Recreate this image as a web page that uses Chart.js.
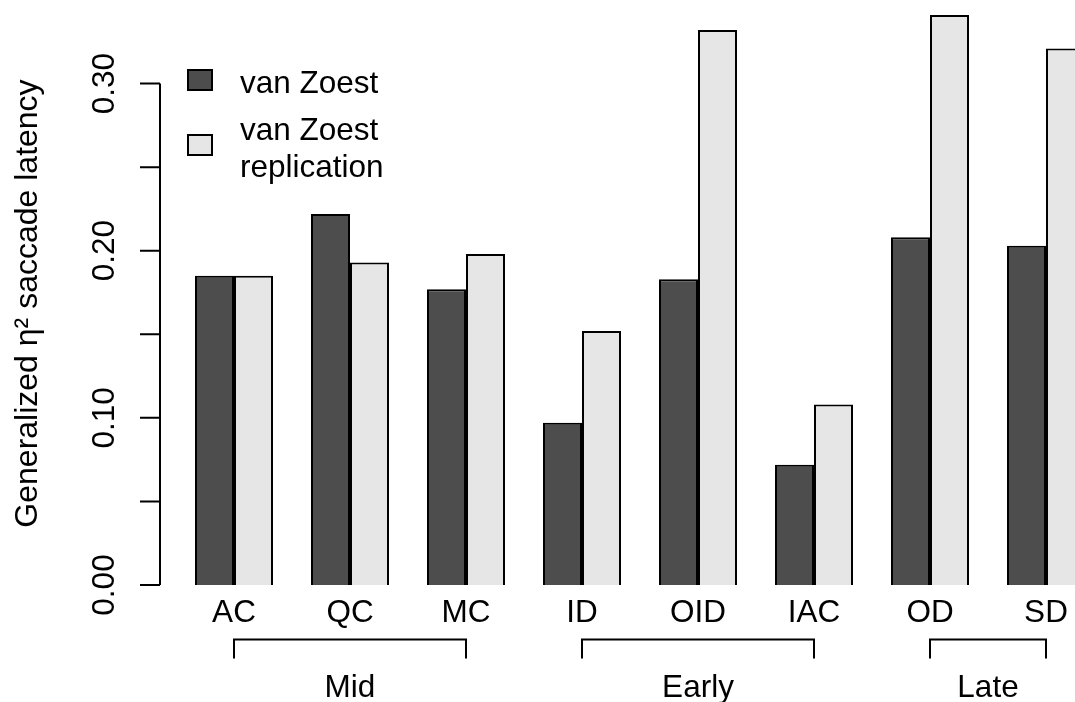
<!DOCTYPE html>
<html>
<head>
<meta charset="utf-8">
<script src="https://cdn.jsdelivr.net/npm/chart.js@4"></script>
<style>
  html, body { margin: 0; padding: 0; background: #ffffff; overflow: hidden; }
  canvas { display: block; }
</style>
</head>
<body>
<canvas id="etaChart" width="1110" height="702"></canvas>
<script>
// Data
const categories = ['AC', 'QC', 'MC', 'ID', 'OID', 'IAC', 'OD', 'SD'];
const vanZoest = [0.185, 0.222, 0.177, 0.097, 0.183, 0.072, 0.208, 0.203];
const replication = [0.185, 0.193, 0.198, 0.152, 0.332, 0.108, 0.341, 0.321];
const seriesNames = ['van Zoest', 'van Zoest replication'];
const legendLines = [['van Zoest'], ['van Zoest', 'replication']];
const yTicks = [0, 0.05, 0.10, 0.15, 0.20, 0.25, 0.30];
const yTickLabels = ['0.00', '', '0.10', '', '0.20', '', '0.30'];
const groups = [
    { label: 'Mid', from: 'AC', to: 'MC' },
    { label: 'Early', from: 'ID', to: 'IAC' },
    { label: 'Late', from: 'OD', to: 'SD' }
];
const yTitle = 'Generalized η² saccade latency';

const FONT = '"Liberation Sans", Arial, Helvetica, sans-serif';

// R-style axes, labels, brackets and legend
const baseGraphics = {
    id: 'baseGraphics',
    afterDraw(chart) {
        const c = chart.ctx;
        const x = chart.scales.x;
        const y = chart.scales.y;
        c.save();
        c.fillStyle = '#000';
        c.strokeStyle = '#000';
        c.lineWidth = 2;
        c.font = '31.5px ' + FONT;

        // y axis line + ticks
        const axisX = 160;
        c.beginPath();
        c.moveTo(axisX, y.getPixelForValue(yTicks[0]));
        c.lineTo(axisX, y.getPixelForValue(yTicks[yTicks.length - 1]));
        yTicks.forEach(v => {
            const py = y.getPixelForValue(v);
            c.moveTo(axisX, py);
            c.lineTo(axisX - 20, py);
        });
        c.stroke();

        // rotated tick labels
        c.textAlign = 'center';
        c.textBaseline = 'alphabetic';
        yTicks.forEach((v, i) => {
            if (!yTickLabels[i]) return;
            c.save();
            c.translate(114, y.getPixelForValue(v));
            c.rotate(-Math.PI / 2);
            c.fillText(yTickLabels[i], 0, 0);
            c.restore();
        });

        // y title
        c.save();
        c.font = '32px ' + FONT;
        c.translate(36.5, 303.5);
        c.rotate(-Math.PI / 2);
        c.fillText(yTitle, 0, 0);
        c.restore();

        // category labels
        categories.forEach((cat, i) => {
            c.fillText(cat, x.getPixelForValue(i), 621.5);
        });

        // group brackets
        c.beginPath();
        groups.forEach(g => {
            const x1 = x.getPixelForValue(categories.indexOf(g.from));
            const x2 = x.getPixelForValue(categories.indexOf(g.to));
            c.moveTo(x1, 658.5);
            c.lineTo(x1, 639.5);
            c.lineTo(x2, 639.5);
            c.lineTo(x2, 658.5);
        });
        c.stroke();
        groups.forEach(g => {
            const x1 = x.getPixelForValue(categories.indexOf(g.from));
            const x2 = x.getPixelForValue(categories.indexOf(g.to));
            c.fillText(g.label, (x1 + x2) / 2, 697);
        });

        // legend
        const boxTops = [70, 135];
        const baselines = [[93], [139.5, 176.5]];
        c.textAlign = 'left';
        chart.data.datasets.forEach((ds, i) => {
            c.fillStyle = ds.backgroundColor;
            c.fillRect(188, boxTops[i], 24, 20);
            c.strokeRect(188, boxTops[i], 24, 20);
            c.fillStyle = '#000';
            legendLines[i].forEach((line, j) => c.fillText(line, 240, baselines[i][j]));
        });
        c.restore();
    }
};

document.addEventListener('DOMContentLoaded', () => {
    const ctx = document.getElementById('etaChart').getContext('2d');

    new Chart(ctx, {
        type: 'bar',
        data: {
            labels: categories,
            datasets: [{
                label: seriesNames[0],
                data: vanZoest,
                backgroundColor: '#4d4d4d',
                borderColor: '#000000',
                borderWidth: 2
            }, {
                label: seriesNames[1],
                data: replication,
                backgroundColor: '#e6e6e6',
                borderColor: '#000000',
                borderWidth: 2
            }]
        },
        options: {
            responsive: false,
            animation: false,
            layout: { padding: { left: 176, right: 6, top: 0, bottom: 117 } },
            datasets: {
                bar: { categoryPercentage: 78 / 116, barPercentage: 1 }
            },
            scales: {
                x: { display: false },
                y: { display: false, min: 0, max: 0.35 }
            },
            plugins: {
                legend: { display: false },
                tooltip: { enabled: false }
            }
        },
        plugins: [baseGraphics]
    });
});
</script>
</body>
</html>
